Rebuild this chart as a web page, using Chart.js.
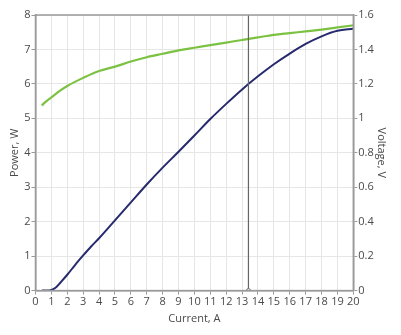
<!DOCTYPE html>
<html>
<head>
<meta charset="utf-8">
<script src="https://cdn.jsdelivr.net/npm/chart.js@4.4.0/dist/chart.umd.min.js"></script>
<style>
  html, body { margin: 0; padding: 0; background: #fff; }
  #wrap { width: 401px; height: 335px; }
</style>
</head>
<body>
<div id="wrap"><canvas id="c"></canvas></div>
<script>
(function () {
  'use strict';

  // current, A
  var powerCurrent = [0.4, 0.7, 1.0, 1.3, 1.6, 2, 2.5, 3, 3.5, 4, 5, 6, 7, 8, 9, 10, 11, 12, 13, 14, 15, 16, 17, 18, 19, 20];
  // power, W
  var powerValues = [0, 0, 0.02, 0.1, 0.25, 0.46, 0.75, 1.02, 1.28, 1.52, 2.04, 2.56, 3.08, 3.57, 4.03, 4.5, 4.98, 5.42, 5.84, 6.22, 6.57, 6.88, 7.16, 7.38, 7.54, 7.6];

  var voltageCurrent = [0.4, 0.6, 1.0, 1.5, 2, 3, 4, 5, 6, 7, 8, 9, 10, 11, 12, 13, 14, 15, 16, 17, 18, 19, 20];
  // voltage, V
  var voltageValues = [1.075, 1.093, 1.122, 1.158, 1.188, 1.235, 1.275, 1.30, 1.33, 1.355, 1.375, 1.395, 1.41, 1.425, 1.44, 1.455, 1.47, 1.485, 1.495, 1.505, 1.515, 1.528, 1.54];

  var markerCurrent = 13.4;

  var font = { family: '"Open Sans", "Noto Sans", sans-serif', size: 11 };
  var textColor = '#4a4a4a';
  var axisColor = '#9a9a9a';
  var gridColor = '#e6e6e6';

  function pairs(xs, ys) {
    return xs.map(function (x, i) { return { x: x, y: ys[i] }; });
  }

  function plain(v) {
    return String(+v.toFixed(1));
  }

  var frame = {
    id: 'frame',
    afterDraw: function (chart) {
      var a = chart.chartArea, ctx = chart.ctx;
      ctx.save();
      ctx.strokeStyle = axisColor;
      ctx.lineWidth = 1.5;
      ctx.strokeRect(a.left, a.top, a.right - a.left, a.bottom - a.top);
      ctx.restore();
    }
  };

  new Chart(document.getElementById('c'), {
    type: 'line',
    data: {
      datasets: [
        {
          label: 'Marker',
          data: [{ x: markerCurrent, y: 0 }, { x: markerCurrent, y: 8 }],
          yAxisID: 'y',
          borderColor: '#666',
          borderWidth: 1.2,
          pointRadius: [2, 0],
          pointBackgroundColor: '#fff',
          pointBorderColor: '#666',
          pointBorderWidth: 1
        },
        {
          label: 'Voltage',
          data: pairs(voltageCurrent, voltageValues),
          yAxisID: 'y1',
          borderColor: '#7cc242',
          borderWidth: 2.2,
          pointRadius: 0,
          cubicInterpolationMode: 'monotone'
        },
        {
          label: 'Power',
          data: pairs(powerCurrent, powerValues),
          yAxisID: 'y',
          borderColor: '#272a6c',
          borderWidth: 2,
          pointRadius: 0,
          cubicInterpolationMode: 'monotone'
        }
      ]
    },
    options: {
      responsive: true,
      maintainAspectRatio: false,
      animation: false,
      layout: { padding: { top: 15, right: 7, bottom: 10, left: 8 } },
      plugins: { legend: { display: false }, tooltip: { enabled: false } },
      scales: {
        x: {
          type: 'linear',
          min: 0,
          max: 20,
          ticks: { stepSize: 1, color: textColor, font: font, padding: 1, maxRotation: 0, autoSkip: false },
          grid: { color: gridColor, tickColor: axisColor, tickLength: 4 },
          border: { color: axisColor, width: 1.5 },
          title: { display: true, text: 'Current, A', color: textColor, font: font, padding: { top: 2, bottom: 0 } }
        },
        y: {
          position: 'left',
          min: 0,
          max: 8,
          ticks: { stepSize: 1, color: textColor, font: font, padding: 1, callback: plain },
          grid: { color: gridColor, tickColor: axisColor, tickLength: 4 },
          border: { color: axisColor, width: 1.5 },
          title: { display: true, text: 'Power, W', color: textColor, font: font, padding: { top: 0, bottom: 2 } }
        },
        y1: {
          position: 'right',
          min: 0,
          max: 1.6,
          ticks: { stepSize: 0.2, color: textColor, font: font, padding: 1, callback: plain },
          grid: { drawOnChartArea: false, tickColor: axisColor, tickLength: 4 },
          border: { color: axisColor, width: 1.5 },
          title: { display: true, text: 'Voltage, V', color: textColor, font: font, padding: { top: 6, bottom: 0 } }
        }
      }
    },
    plugins: [frame]
  });
})();
</script>
</body>
</html>
